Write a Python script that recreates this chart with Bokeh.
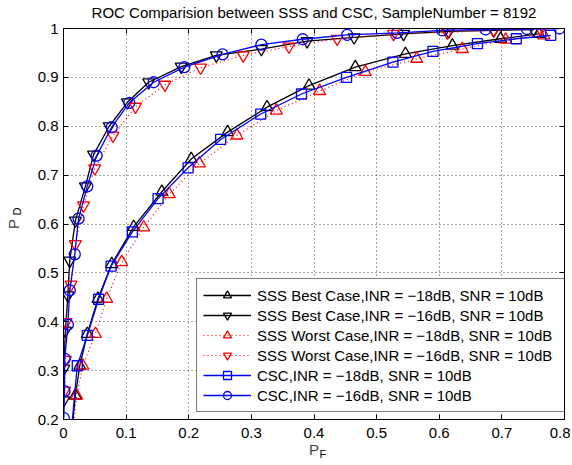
from bokeh.plotting import figure
from bokeh.models import (Range1d, LinearAxis, FixedTicker, NumeralTickFormatter,
                          Legend, LegendItem, Title, CustomLabelingPolicy)
from bokeh.embed import file_html
from bokeh.resources import INLINE

# ---------------- data ----------------
x_ticks = [0, 0.1, 0.2, 0.3, 0.4, 0.5, 0.6, 0.7, 0.8]
y_ticks = [0.2, 0.3, 0.4, 0.5, 0.6, 0.7, 0.8, 0.9, 1.0]

pf_best18 = [0.0, 0.019, 0.026, 0.038, 0.055, 0.077, 0.112, 0.157, 0.204, 0.262, 0.325, 0.392, 0.466, 0.546, 0.621, 0.698, 0.759]
pd_best18 = [0.0, 0.249, 0.310, 0.375, 0.447, 0.518, 0.594, 0.666, 0.733, 0.788, 0.839, 0.883, 0.921, 0.948, 0.965, 0.979, 0.989]

pf_best16 = [0.0, 0.0005, 0.003, 0.007, 0.010, 0.019, 0.035, 0.048, 0.073, 0.102, 0.136, 0.188, 0.244, 0.316, 0.389, 0.464, 0.543, 0.615, 0.687, 0.751]
pd_best16 = [0.239, 0.304, 0.382, 0.454, 0.525, 0.607, 0.677, 0.742, 0.800, 0.849, 0.890, 0.922, 0.945, 0.958, 0.974, 0.982, 0.989, 0.994, 0.996, 0.998]

pf_worst18 = [0.0, 0.021, 0.031, 0.051, 0.069, 0.093, 0.128, 0.169, 0.217, 0.277, 0.340, 0.409, 0.482, 0.564, 0.637, 0.706, 0.767]
pd_worst18 = [0.0, 0.249, 0.310, 0.375, 0.447, 0.522, 0.593, 0.661, 0.724, 0.781, 0.832, 0.872, 0.911, 0.938, 0.958, 0.977, 0.986]

pf_worst16 = [0.0016, 0.003, 0.004, 0.012, 0.019, 0.032, 0.050, 0.079, 0.115, 0.162, 0.219, 0.287, 0.360, 0.437, 0.527, 0.613, 0.687, 0.762]
pd_worst16 = [0.259, 0.322, 0.399, 0.476, 0.559, 0.638, 0.714, 0.781, 0.840, 0.885, 0.920, 0.945, 0.963, 0.979, 0.989, 0.992, 0.997, 0.998]

pf_csc18 = [0.0, 0.022, 0.038, 0.056, 0.076, 0.110, 0.151, 0.199, 0.251, 0.315, 0.380, 0.452, 0.526, 0.590, 0.661, 0.723, 0.778]
pd_csc18 = [0.0, 0.310, 0.372, 0.446, 0.514, 0.584, 0.652, 0.715, 0.773, 0.825, 0.866, 0.900, 0.931, 0.953, 0.969, 0.979, 0.986]

pf_csc16 = [0.0005, 0.0016, 0.002, 0.007, 0.010, 0.018, 0.024, 0.038, 0.053, 0.077, 0.105, 0.144, 0.193, 0.254, 0.316, 0.382, 0.453, 0.533, 0.605, 0.674, 0.740, 0.792]
pd_csc16 = [0.203, 0.258, 0.324, 0.394, 0.464, 0.538, 0.611, 0.677, 0.740, 0.798, 0.848, 0.890, 0.921, 0.947, 0.967, 0.978, 0.987, 0.991, 0.996, 0.998, 0.999, 1.0]

labels = [
    "SSS Best Case,INR = \u221218dB, SNR = 10dB",
    "SSS Best Case,INR = \u221216dB, SNR = 10dB",
    "SSS Worst Case,INR = \u221218dB, SNR = 10dB",
    "SSS Worst Case,INR = \u221216dB, SNR = 10dB",
    "CSC,INR = \u221218dB, SNR = 10dB",
    "CSC,INR = \u221216dB, SNR = 10dB",
]
title_text = "ROC Comparision between SSS and CSC, SampleNumber = 8192"

FONT = "Liberation Sans"
FS = "15px"

p = figure(frame_width=501, frame_height=391,
           min_border_left=63, min_border_right=6, min_border_top=28, min_border_bottom=44,
           x_range=Range1d(0, 0.8), y_range=Range1d(0.2, 1.0),
           output_backend="svg", toolbar_location=None,
           background_fill_color="white", border_fill_color="white")
p.outline_line_color = "black"
p.outline_line_width = 1

p.title.text = title_text
p.title.align = "center"
p.title.vertical_align = "top"
p.title.text_font = FONT
p.title.text_font_size = FS
p.title.text_font_style = "normal"
p.title.text_color = "black"
p.title.standoff = 4

no_labels = CustomLabelingPolicy(code="return new Set()")

def style_axis(ax, ticks, show_labels, standoff):
    ax.ticker = FixedTicker(ticks=ticks)
    ax.formatter = NumeralTickFormatter(format="0.[0]")
    ax.major_tick_in = 5
    ax.major_tick_out = 0
    ax.minor_tick_in = 0
    ax.minor_tick_out = 0
    ax.axis_line_color = "black"
    ax.major_tick_line_color = "black"
    ax.major_label_text_font = FONT
    ax.major_label_text_color = "black"
    ax.major_label_text_font_size = FS
    ax.major_label_standoff = standoff
    if not show_labels:
        ax.major_label_policy = no_labels
        ax.major_label_text_font_size = "1px"

x_bottom = p.xaxis[0]
y_left = p.yaxis[0]
style_axis(x_bottom, x_ticks, True, 8)
style_axis(y_left, y_ticks, True, 5)
top_ax = LinearAxis()
right_ax = LinearAxis()
style_axis(top_ax, x_ticks, False, 0)
style_axis(right_ax, y_ticks, False, 0)
p.add_layout(top_ax, "above")
p.add_layout(right_ax, "right")

# axis labels: P with subscripts
x_bottom.axis_label = "P"
x_bottom.axis_label_text_font = FONT
x_bottom.axis_label_text_font_size = FS
x_bottom.axis_label_text_font_style = "normal"
x_bottom.axis_label_standoff = 0
y_left.axis_label = "P"
y_left.axis_label_text_font = FONT
y_left.axis_label_text_font_size = FS
y_left.axis_label_text_font_style = "normal"
y_left.axis_label_standoff = 13

sub_f = Title(text="F", align="left", offset=256, vertical_align="top", standoff=-25,
              text_font=FONT, text_font_size="11px", text_font_style="normal", text_color="black")
p.add_layout(sub_f, "below")
sub_d = Title(text="D", align="left", offset=204, vertical_align="bottom", standoff=-42,
              text_font=FONT, text_font_size="11px", text_font_style="normal", text_color="black")
p.add_layout(sub_d, "left")

for g, t in ((p.xgrid[0], x_ticks), (p.ygrid[0], y_ticks)):
    g.ticker = FixedTicker(ticks=t)
    g.grid_line_color = "black"
    g.grid_line_dash = "1 3"
    g.grid_line_alpha = 0.7
    g.grid_line_width = 1

series = [
    (pf_best18, pd_best18, "black", "solid", "triangle", 12),
    (pf_best16, pd_best16, "black", "solid", "inverted_triangle", 12),
    (pf_worst18, pd_worst18, "red", "1 3", "triangle", 12),
    (pf_worst16, pd_worst16, "red", "1 3", "inverted_triangle", 12),
    (pf_csc18, pd_csc18, "blue", "solid", "square", 10),
    (pf_csc16, pd_csc16, "blue", "solid", "circle", 11),
]

items = []
for (xs, ys, col, dash, mk, sz), lab in zip(series, labels):
    lw = 1.3 if col != "red" else 1.2
    r1 = p.line(xs, ys, line_color=col, line_width=lw, line_dash=dash)
    r2 = p.scatter(xs, ys, marker=mk, size=sz, line_color=col, fill_color=None, line_width=1.3)
    items.append(LegendItem(label=lab, renderers=[r1, r2]))

legend = Legend(items=items, location=(133, 7))
legend.label_text_font = FONT
legend.label_text_font_size = FS
legend.label_text_color = "black"
legend.glyph_width = 48
legend.glyph_height = 20
legend.label_height = 20
legend.label_width = 306
legend.label_standoff = 6
legend.spacing = 0
legend.padding = 6
legend.margin = 0
legend.border_line_color = "black"
legend.border_line_width = 1
legend.background_fill_color = "white"
legend.background_fill_alpha = 1
p.add_layout(legend, "center")

open("out.html", "w").write(file_html(p, INLINE))
